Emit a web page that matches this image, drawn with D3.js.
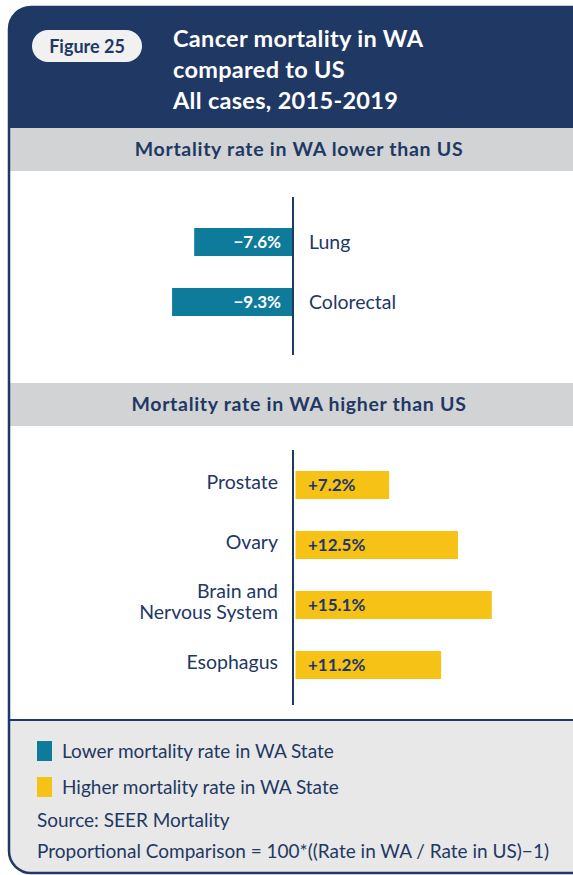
<!DOCTYPE html>
<html>
<head>
<meta charset="utf-8">
<script src="https://cdn.jsdelivr.net/npm/d3@7"></script>
<style>
  body { margin: 0; background: #fff; }
  svg text { font-family: Lato, "Open Sans", sans-serif; }
</style>
</head>
<body>
<div id="chart"></div>
<script>
// data
const titleLines = ["Cancer mortality in WA", "compared to US", "All cases, 2015-2019"];
const figureLabel = "Figure 25";
const lowerHeading = "Mortality rate in WA lower than US";
const higherHeading = "Mortality rate in WA higher than US";
const lowerCats = ["Lung", "Colorectal"];
const lowerVals = [-7.6, -9.3];
const higherCats = ["Prostate", "Ovary", "Brain and|Nervous System", "Esophagus"];
const higherVals = [7.2, 12.5, 15.1, 11.2];
const legendLabels = ["Lower mortality rate in WA State", "Higher mortality rate in WA State"];
const notes = ["Source: SEER Mortality", "Proportional Comparison = 100*((Rate in WA / Rate in US)\u22121)"];

const W = 573, H = 875;
const navy = "#1f3864", teal = "#0e7b9a", yellow = "#f6c216";
const band = "#d1d3d4", legendBg = "#e8e8e8";

const svg = d3.select("#chart").append("svg")
    .attr("width", W).attr("height", H);

// card shape
const card = {x: 9, y: 7, w: 620, h: 866, r: 22};
svg.append("clipPath").attr("id", "cardClip")
    .append("rect")
    .attr("x", card.x).attr("y", card.y)
    .attr("width", card.w).attr("height", card.h).attr("rx", card.r);

const g = svg.append("g").attr("clip-path", "url(#cardClip)");
g.append("rect").attr("x", 0).attr("y", 0).attr("width", W).attr("height", H).attr("fill", "#fff");

// header
g.append("rect").attr("x", 0).attr("y", 0).attr("width", W).attr("height", 128).attr("fill", navy);
g.append("rect").attr("x", 32).attr("y", 30).attr("width", 110).attr("height", 32).attr("rx", 16)
    .attr("fill", "#f1f1f2");
g.append("text").attr("x", 87).attr("y", 53).attr("text-anchor", "middle")
    .attr("fill", navy).attr("font-weight", 700).attr("font-size", 18).text(figureLabel);
g.selectAll(".title").data(titleLines).join("text")
    .attr("class", "title")
    .attr("x", 173).attr("y", (d, i) => 47 + i * 31)
    .attr("fill", "#fff").attr("font-weight", 700).attr("font-size", 23.5)
    .attr("letter-spacing", 0.3)
    .text(d => d);

// section headings
const headings = [{t: lowerHeading, y: 128}, {t: higherHeading, y: 383}];
headings.forEach(h => {
    g.append("rect").attr("x", 0).attr("y", h.y).attr("width", W).attr("height", 43).attr("fill", band);
    g.append("text").attr("x", 299).attr("y", h.y + 28).attr("text-anchor", "middle")
        .attr("fill", navy).attr("font-weight", 700).attr("font-size", 19.5)
        .attr("letter-spacing", 0.7).text(h.t);
});

// scales
const x = d3.scaleLinear().domain([-10, 16]).range([163, 501]);
const x0 = x(0);

const yTop = d3.scaleBand().domain(lowerCats).range([212, 332])
    .paddingInner(0.533).paddingOuter(0.267);
const yBot = d3.scaleBand().domain(higherCats).range([455, 695])
    .paddingInner(0.533).paddingOuter(0.267);

const fmt = v => (v < 0 ? "\u2212" : "+") + Math.abs(v).toFixed(1) + "%";

// lower bars
const lowerData = lowerCats.map((c, i) => ({c, v: lowerVals[i]}));
g.selectAll(".lowBar").data(lowerData).join("rect")
    .attr("class", "lowBar")
    .attr("x", d => x(d.v)).attr("y", d => yTop(d.c))
    .attr("width", d => x0 - x(d.v)).attr("height", yTop.bandwidth())
    .attr("fill", teal);
g.selectAll(".lowVal").data(lowerData).join("text")
    .attr("class", "lowVal")
    .attr("x", x0 - 12).attr("y", d => yTop(d.c) + yTop.bandwidth() / 2 + 6)
    .attr("text-anchor", "end").attr("fill", "#fff").attr("font-weight", 700).attr("font-size", 17)
    .text(d => fmt(d.v));
g.selectAll(".lowCat").data(lowerData).join("text")
    .attr("class", "lowCat")
    .attr("x", x0 + 16).attr("y", d => yTop(d.c) + yTop.bandwidth() / 2 + 7)
    .attr("fill", navy).attr("font-size", 19.5)
    .text(d => d.c);
g.append("line").attr("x1", x0).attr("x2", x0).attr("y1", 197).attr("y2", 355)
    .attr("stroke", navy).attr("stroke-width", 2);

// higher bars
const higherData = higherCats.map((c, i) => ({c, v: higherVals[i]}));
g.selectAll(".highBar").data(higherData).join("rect")
    .attr("class", "highBar")
    .attr("x", x0 + 2.5).attr("y", d => yBot(d.c))
    .attr("width", d => x(d.v) - x0).attr("height", yBot.bandwidth())
    .attr("fill", yellow);
g.selectAll(".highVal").data(higherData).join("text")
    .attr("class", "highVal")
    .attr("x", x0 + 15).attr("y", d => yBot(d.c) + yBot.bandwidth() / 2 + 6)
    .attr("fill", navy).attr("font-weight", 700).attr("font-size", 17)
    .text(d => fmt(d.v));
const highCat = g.selectAll(".highCat").data(higherData).join("text")
    .attr("class", "highCat")
    .attr("text-anchor", "end").attr("fill", navy).attr("font-size", 19.5);
highCat.each(function(d) {
    const parts = d.c.split("|");
    const cy = yBot(d.c) + yBot.bandwidth() / 2 + 4 - (parts.length - 1) * 11;
    d3.select(this).selectAll("tspan").data(parts).join("tspan")
        .attr("x", x0 - 15).attr("y", (p, i) => cy + i * 21)
        .text(p => p);
});
g.append("line").attr("x1", x0).attr("x2", x0).attr("y1", 450).attr("y2", 705)
    .attr("stroke", navy).attr("stroke-width", 2);

// legend area
g.append("rect").attr("x", 0).attr("y", 720).attr("width", W).attr("height", H - 720).attr("fill", legendBg);
g.append("line").attr("x1", 0).attr("x2", W).attr("y1", 720).attr("y2", 720)
    .attr("stroke", navy).attr("stroke-width", 2);

const legendColors = [teal, yellow];
const lg = g.selectAll(".legend").data(legendLabels).join("g")
    .attr("class", "legend")
    .attr("transform", (d, i) => `translate(37,${741 + i * 36})`);
lg.append("rect").attr("width", 15).attr("height", 20).attr("fill", (d, i) => legendColors[i]);
lg.append("text").attr("x", 25).attr("y", 17)
    .attr("fill", navy).attr("font-size", 19).text(d => d);

g.selectAll(".note").data(notes).join("text")
    .attr("class", "note")
    .attr("x", 37).attr("y", (d, i) => 827 + i * 31)
    .attr("fill", navy).attr("font-size", 19).text(d => d);

// card outline
svg.append("rect")
    .attr("x", card.x).attr("y", card.y)
    .attr("width", card.w).attr("height", card.h).attr("rx", card.r)
    .attr("fill", "none").attr("stroke", navy).attr("stroke-width", 2.5);
</script>
</body>
</html>
